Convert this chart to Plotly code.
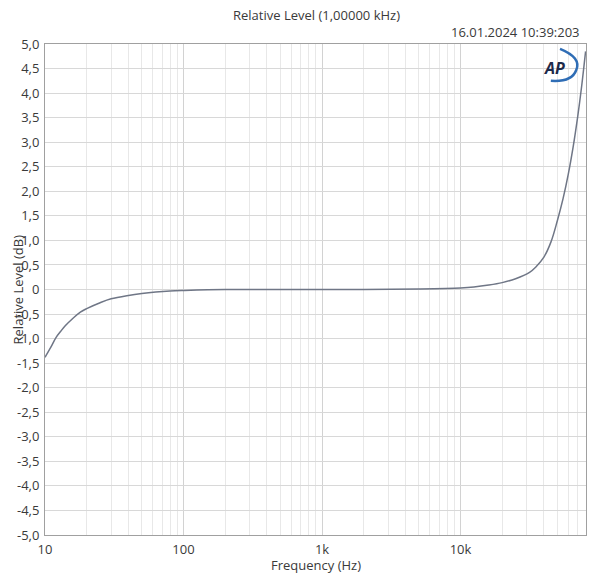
import plotly.graph_objects as go

# measured relative level, read from the AP sweep
freq_hz = [10, 11, 12, 13, 14, 16, 18, 20, 25, 30, 40, 50, 63, 80, 100, 200, 500,
           1000, 2000, 5000, 10000, 12500, 16000, 20000, 25000, 31500, 35000,
           40000, 45000, 50000, 55000, 60000, 65000, 70000, 75000, 80000]
level_db = [-1.38, -1.18, -0.98, -0.85, -0.74, -0.58, -0.46, -0.39, -0.27, -0.19,
            -0.12, -0.08, -0.05, -0.03, -0.02, 0.0, 0.0,
            0.0, 0.0, 0.01, 0.03, 0.05, 0.09, 0.14, 0.22, 0.35, 0.46,
            0.66, 0.97, 1.4, 1.85, 2.35, 2.9, 3.5, 4.15, 4.85]

x_major = [10, 100, 1000, 10000]
x_labels = ["10", "100", "1k", "10k"]
x_minor = [m * d for d in [10, 100, 1000, 10000] for m in range(2, 10) if m * d <= 80000]

y_ticks = [5.0 - 0.5 * i for i in range(21)]
y_labels = ["0" if abs(v) < 1e-9 else f"{v:.1f}".replace(".", ",") for v in y_ticks]

txt = "#3a3a3a"

fig = go.Figure()

fig.add_trace(go.Scatter(x=freq_hz, y=level_db, mode="lines",
                         line=dict(color="#6f7686", width=1.5, shape="spline"),
                         showlegend=False))

fig.update_layout(
    width=590, height=575,
    margin=dict(l=45, r=4, t=44, b=40),
    paper_bgcolor="white", plot_bgcolor="white",
    font=dict(family="Open Sans", size=13, color=txt),
    xaxis=dict(type="log", range=[1, 4.906], tickvals=x_major, ticktext=x_labels,
               showgrid=True, gridcolor="#d2d2d2", gridwidth=1,
               minor=dict(tickvals=x_minor, showgrid=True, gridcolor="#e8e8e8", ticks=""),
               showline=True, linecolor="#a0a0a0", mirror=True, ticks="",
               ticklabelstandoff=2, zeroline=False, automargin=False),
    yaxis=dict(range=[-5, 5], tickvals=y_ticks, ticktext=y_labels,
               showgrid=True, gridcolor="#d8d8d8", gridwidth=1,
               showline=True, linecolor="#a0a0a0", mirror=True, ticks="",
               ticklabelstandoff=2, zeroline=False, automargin=False),
)

fig.add_annotation(text="Relative Level (1,00000 kHz)", xref="paper", yref="paper",
                   x=0.501, y=1.059, xanchor="center", yanchor="middle",
                   showarrow=False, font=dict(size=13, color=txt))
fig.add_annotation(text="16.01.2024 10:39:203", xref="paper", yref="paper",
                   x=0.993, y=1.024, xanchor="right", yanchor="middle",
                   showarrow=False, font=dict(size=13, color=txt))
fig.add_annotation(text="Frequency (Hz)", xref="paper", yref="paper",
                   x=0.501, y=-0.061, xanchor="center", yanchor="middle",
                   showarrow=False, font=dict(size=13, color=txt))
fig.add_annotation(text="Relative Level (dB)", xref="paper", yref="paper",
                   x=-0.05, y=0.5, xanchor="center", yanchor="middle", textangle=-90,
                   showarrow=False, font=dict(size=13, color=txt))

# AP logo in the top right corner
fig.add_annotation(text="<b><i>AP</i></b>", xref="paper", yref="paper",
                   x=0.942, y=0.951, xanchor="center", yanchor="middle",
                   showarrow=False, font=dict(size=16, color="#1d2a4a"))
fig.add_shape(type="path", xref="paper", yref="paper",
              path="M 0.952,0.990 Q 0.992,0.972 0.982,0.947 Q 0.974,0.922 0.935,0.925",
              line=dict(color="#2f6db5", width=2.5))

# drop the default body margin so the figure fills the window exactly
fig.write_html("out.html", config={"displayModeBar": False},
               post_script="document.body.style.margin='0';"
                           "document.documentElement.style.overflow='hidden';")
